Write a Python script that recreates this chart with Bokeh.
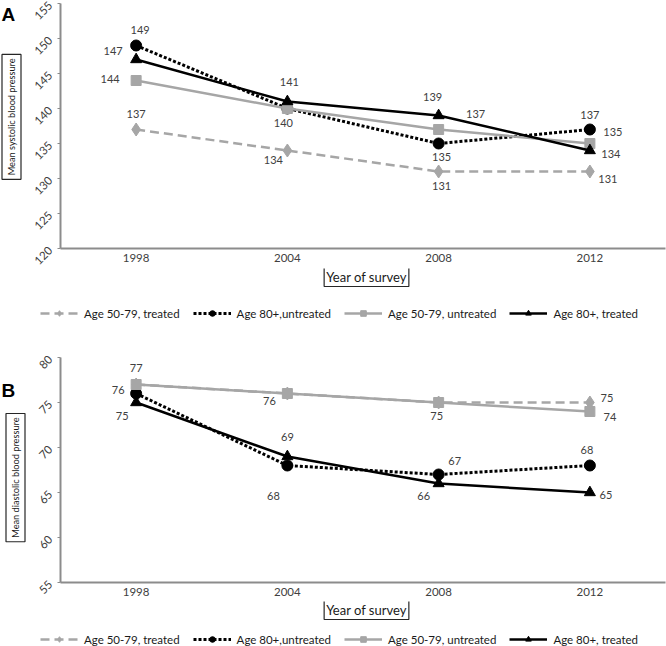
import math
from bokeh.plotting import figure
from bokeh.models import FactorRange, Range1d, FixedTicker, Label, Legend, LegendItem, ColumnDataSource
from bokeh.layouts import column, row
from bokeh.embed import file_html
from bokeh.resources import INLINE

# ---------------- data ----------------
years = ["1998", "2004", "2008", "2012"]
series_names = ["Age 50-79, treated", "Age 80+,untreated", "Age 50-79, untreated", "Age 80+, treated"]

sys_50_79_treated = [137, 134, 131, 131]
sys_80_untreated = [149, 140, 135, 137]
sys_50_79_untreated = [144, 140, 137, 135]
sys_80_treated = [147, 141, 139, 134]

dia_50_79_treated = [77, 76, 75, 75]
dia_80_untreated = [76, 68, 67, 68]
dia_50_79_untreated = [77, 76, 75, 74]
dia_80_treated = [75, 69, 66, 65]

sys_ticks = [120, 125, 130, 135, 140, 145, 150, 155]
dia_ticks = [55, 60, 65, 70, 75, 80]

# which points carry a value label: (series index, year index)
sys_labelled = [(1, 0), (3, 0), (2, 0), (0, 0),
                (3, 1), (2, 1), (0, 1),
                (3, 2), (2, 2), (1, 2), (0, 2),
                (1, 3), (2, 3), (3, 3), (0, 3)]
dia_labelled = [(2, 0), (1, 0), (3, 0),
                (2, 1), (3, 1), (1, 1),
                (2, 2), (1, 2), (3, 2),
                (0, 3), (2, 3), (1, 3), (3, 3)]

# ---------------- layout / style ----------------
sys_label_offsets = [(4, -16), (-23, -9), (-26, -2), (0, -16),
                     (2, -20), (-4, 14), (-14, 9),
                     (-6, -19), (37, -16), (3, 13), (3, 14),
                     (0, -15), (23, -12), (21, 3), (18, 7)]
dia_label_offsets = [(0, -17), (-18, -4), (-14, 13),
                     (-18, 7), (0, -20), (-14, 30),
                     (-2, 13), (16, -14), (-15, 12),
                     (17, -5), (20, 5), (-3, -16), (16, 2)]

styles = [
    dict(color="#a6a6a6", dash="9 5", width=2.5, marker="diamond", size=13),
    dict(color="#000000", dash="3 2", width=3, marker="circle", size=11),
    dict(color="#a6a6a6", dash="solid", width=2.5, marker="square", size=10),
    dict(color="#000000", dash="solid", width=2.5, marker="triangle", size=11),
]

FONT = "Lato"
W = 666
SIDE_W = 27
FRAME_LEFT = 60


def blank(width, height):
    b = figure(width=width, height=height, x_range=Range1d(0, width), y_range=Range1d(0, height),
               x_axis_type=None, y_axis_type=None, output_backend="svg", toolbar_location=None,
               min_border=0)
    b.outline_line_color = None
    b.background_fill_color = "white"
    b.border_fill_color = "white"
    return b


def make_panel(series, ticks, labelled, offsets, letter, ytitle, total_h, btop, frame_h,
               bottom_axis, letter_top, ytitle_x, ytitle_center, year_center, legend_bottom):
    main_h = btop + frame_h + bottom_axis
    p = figure(width=W - SIDE_W, height=main_h, x_range=FactorRange(*years, range_padding=0),
               y_range=Range1d(ticks[0], ticks[-1]), output_backend="svg",
               toolbar_location=None, min_border_left=FRAME_LEFT - SIDE_W, min_border_right=1,
               min_border_top=btop, min_border_bottom=bottom_axis)
    p.outline_line_color = None
    p.xgrid.visible = False
    p.ygrid.visible = False
    p.background_fill_color = "white"
    p.border_fill_color = "white"

    for ax in (p.xaxis[0], p.yaxis[0]):
        ax.axis_line_color = "#8c8c8c"
        ax.axis_line_width = 2
        ax.minor_tick_line_color = None
        ax.major_tick_in = 0
        ax.major_label_text_font = FONT
        ax.major_label_text_font_size = "11.5px"
        ax.major_label_text_color = "#404040"
    p.xaxis[0].major_tick_line_color = None
    p.xaxis[0].major_tick_out = 0
    p.xaxis[0].major_label_standoff = 5
    p.yaxis[0].major_tick_line_color = "#8c8c8c"
    p.yaxis[0].major_tick_out = 3
    p.yaxis[0].ticker = FixedTicker(ticks=ticks)
    p.yaxis[0].major_label_orientation = math.pi / 4
    p.yaxis[0].major_label_standoff = 7

    for vals, st in zip(series, styles):
        src = ColumnDataSource(dict(x=years, y=vals))
        p.line("x", "y", source=src, line_color=st["color"], line_width=st["width"],
               line_dash=st["dash"])
        p.scatter("x", "y", source=src, marker=st["marker"], size=st["size"],
                  fill_color=st["color"], line_color=st["color"])

    lx, ly, lt, dx, dy = [], [], [], [], []
    for (si, yi), (ox, oy) in zip(labelled, offsets):
        lx.append(years[yi])
        ly.append(series[si][yi])
        lt.append(str(series[si][yi]))
        dx.append(ox)
        dy.append(oy)
    p.text(x=lx, y=ly, text=lt, x_offset=dx, y_offset=dy, text_align="center",
           text_baseline="middle", text_font_size="11px", text_color="#404040",
           text_font={"value": FONT})

    # left strip: boxed y-axis title and panel letter
    side = blank(SIDE_W, main_h)
    side.add_layout(Label(x=ytitle_x, y=main_h - ytitle_center, text=ytitle, angle=math.pi / 2,
                          text_font=FONT, text_font_size="9.2px", text_align="center",
                          text_baseline="middle", text_color="#1a1a1a",
                          border_line_color="#262626", border_line_width=1.2,
                          background_fill_color="white", padding=4))
    side.add_layout(Label(x=1, y=main_h - letter_top, text=letter,
                          text_font="Liberation Sans", text_font_style="bold",
                          text_font_size="19px", text_baseline="top", text_align="left",
                          text_color="#000000"))

    # bottom strip: boxed x-axis title and legend
    bot_h = total_h - main_h
    bot = blank(W, bot_h)
    bot.add_layout(Label(x=366, y=bot_h - (year_center - main_h), text="Year of survey",
                         text_font=FONT, text_font_size="13px", text_align="center",
                         text_baseline="middle", text_color="#1a1a1a",
                         border_line_color="#262626", border_line_width=1.2,
                         background_fill_color="white", padding=2))
    items = []
    for name, st in zip(series_names, styles):
        nan_src = ColumnDataSource(dict(x=[float("nan")], y=[float("nan")]))
        lr = bot.line("x", "y", source=nan_src, line_color=st["color"], line_width=st["width"],
                      line_dash=st["dash"])
        sr = bot.scatter("x", "y", source=nan_src, marker=st["marker"], size=st["size"] - 2,
                         fill_color=st["color"], line_color=st["color"])
        items.append(LegendItem(label=name, renderers=[lr, sr]))
    legend = Legend(items=items, orientation="horizontal", location=(40, legend_bottom),
                    glyph_width=38, glyph_height=14, label_standoff=6, spacing=13,
                    padding=0, margin=0, border_line_color=None, background_fill_alpha=0,
                    label_text_font=FONT, label_text_font_size="11.5px",
                    label_text_color="#1a1a1a", label_height=14)
    bot.add_layout(legend)

    return column(row(side, p, spacing=0), bot, spacing=0)


panel_a = make_panel([sys_50_79_treated, sys_80_untreated, sys_50_79_untreated, sys_80_treated],
                     sys_ticks, sys_labelled, sys_label_offsets, "A",
                     "Mean systolic blood pressure", 320, 3, 245, 20,
                     letter_top=0, ytitle_x=11, ytitle_center=124, year_center=276,
                     legend_bottom=0)
panel_b = make_panel([dia_50_79_treated, dia_80_untreated, dia_50_79_untreated, dia_80_treated],
                     dia_ticks, dia_labelled, dia_label_offsets, "B",
                     "Mean diastolic blood pressure", 326, 37, 225, 19,
                     letter_top=28, ytitle_x=15, ytitle_center=150, year_center=289,
                     legend_bottom=0)

layout = column(panel_a, panel_b, spacing=0)
open("out.html", "w").write(file_html(layout, INLINE))
